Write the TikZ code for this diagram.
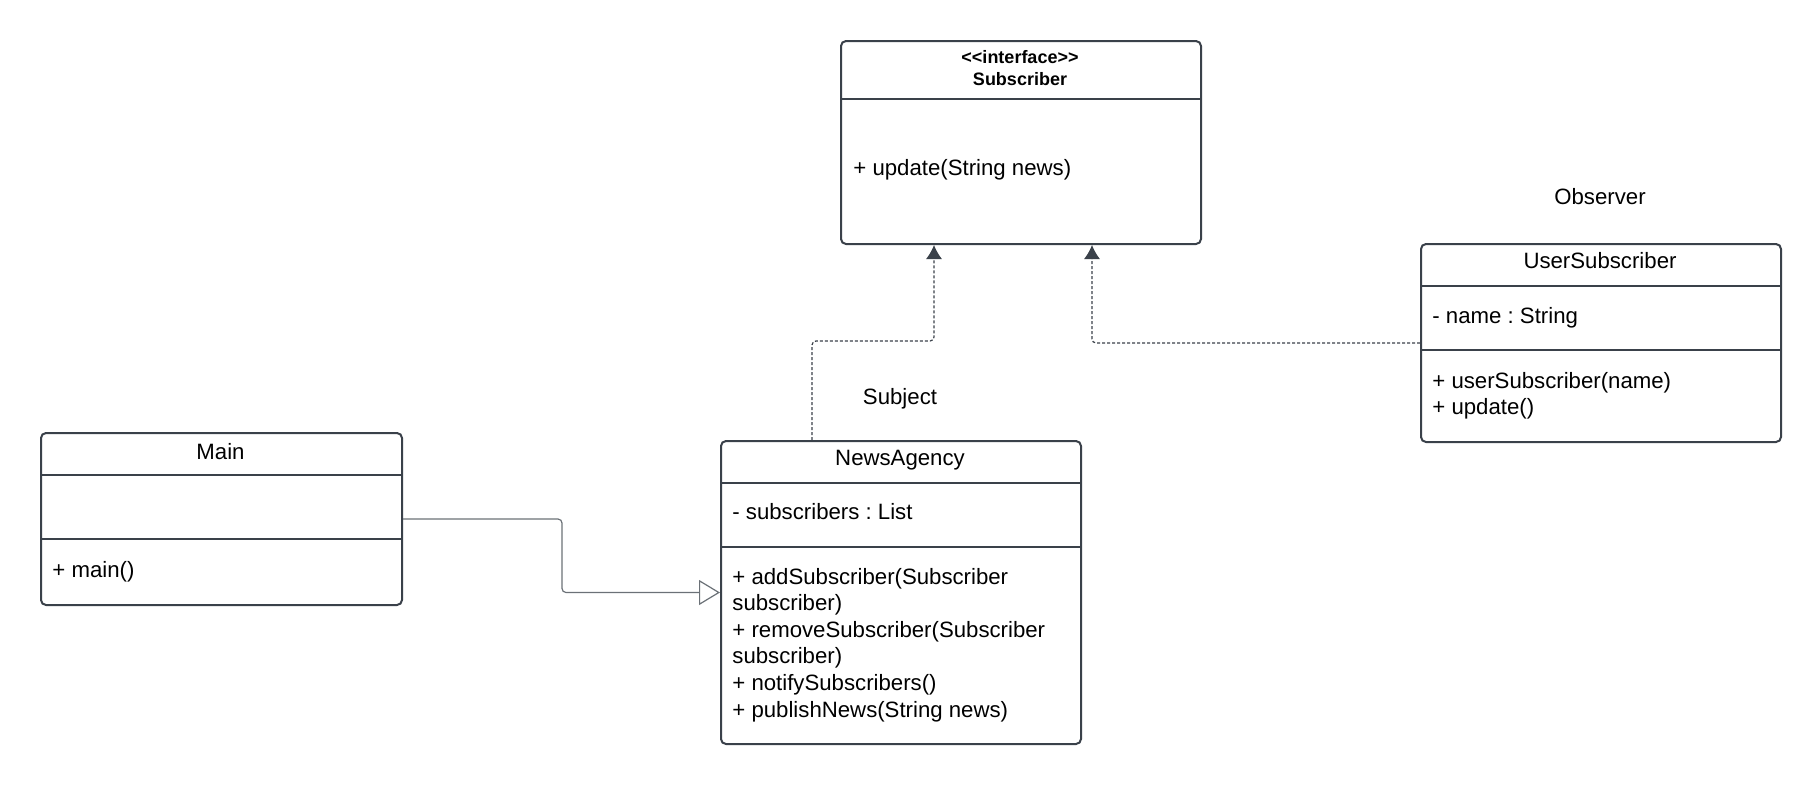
\documentclass[tikz,border=0pt]{standalone}
\usepackage{fontspec}
\setmainfont{Liberation Sans}
\usepackage{tikz}
\usetikzlibrary{arrows.meta, positioning}
\definecolor{umlline}{HTML}{3A414A}
\frenchspacing

\begin{document}
\begin{tikzpicture}[x=0.5pt, y=-0.5pt,
  classbox/.style={draw=umlline, line width=1pt, rounded corners=2.5pt, minimum width=180pt, anchor=north west, inner sep=0pt},
  divider/.style={draw=umlline, line width=1pt},
  classname/.style={anchor=base, inner sep=0pt, font=\fontsize{11.1}{13.3}\selectfont},
  stereo/.style={anchor=base, inner sep=0pt, font=\fontsize{9}{11}\selectfont\bfseries},
  member/.style={anchor=base west, inner sep=0pt, font=\fontsize{11.1}{13.3}\selectfont},
  realize/.style={draw=umlline, line width=0.6pt, dash pattern=on 1.5pt off 1pt, rounded corners=2pt, -{Latex[length=7pt,width=8pt]}},
  inherit/.style={draw=umlline!75, line width=0.6pt, rounded corners=2pt, -{Triangle[open,length=10.5pt,width=12.5pt,fill=white]}}]
  \useasboundingbox (0,0) rectangle (1820,784);
  % interface
  \node[classbox, minimum height=101.5pt] (iface) at (840,40) {};
  \draw[divider] ([yshift=-29.5pt]iface.north west) -- ([yshift=-29.5pt]iface.north east);
  \node[stereo] (iface-st) at (1020,63.5) {{<}{<}interface{>}{>}};
  \node[stereo] (iface-name) at (1020,85.5) {Subscriber};
  \node[member] (iface-op) at (853,175) {+ update(String news)};
  % observer
  \node[classname] (observer) at (1600,204) {Observer};
  \node[classbox, minimum height=99pt] (user) at (1420,243) {};
  \draw[divider] ([yshift=-21.5pt]user.north west) -- ([yshift=-21.5pt]user.north east);
  \draw[divider] ([yshift=-53.5pt]user.north west) -- ([yshift=-53.5pt]user.north east);
  \node[classname] (user-name) at (1600,268) {UserSubscriber};
  \node[member] (user-attr) at (1432,323) {- name : String};
  \node[member] (user-op1) at (1432,388) {+ userSubscriber(name)};
  \node[member] (user-op2) at (1432,414) {+ update()};
  % subject
  \node[classname] (subject) at (900,404) {Subject};
  \node[classbox, minimum height=151.5pt] (agency) at (720,440) {};
  \draw[divider] ([yshift=-21.5pt]agency.north west) -- ([yshift=-21.5pt]agency.north east);
  \draw[divider] ([yshift=-53.5pt]agency.north west) -- ([yshift=-53.5pt]agency.north east);
  \node[classname] (agency-name) at (900,465) {NewsAgency};
  \node[member] (agency-attr) at (732,519) {- subscribers : List};
  \foreach \op [count=\i from 0] in {{+ addSubscriber(Subscriber}, {subscriber)}, {+ removeSubscriber(Subscriber}, {subscriber)}, {+ notifySubscribers()}, {+ publishNews(String news)}}
    \node[member] (agency-op\i) at (732,584+26.6*\i) {\op};
  % main
  \node[classbox, minimum width=180.5pt, minimum height=86pt] (main) at (40,432) {};
  \draw[divider] ([yshift=-21.5pt]main.north west) -- ([yshift=-21.5pt]main.north east);
  \draw[divider] ([yshift=-53.5pt]main.north west) -- ([yshift=-53.5pt]main.north east);
  \node[classname] (main-name) at (220.5,459) {Main};
  \node[member] (main-op) at (52,577) {+ main()};
  % connectors
  \draw[realize] ([xshift=46pt]agency.north west) -- ++(0,-99) -| ([xshift=47pt]iface.south west);
  \draw[realize] (user.west) -| ([xshift=126pt]iface.south west);
  \draw[inherit] (main.east) -- ++(159,0) |- (agency.west);
\end{tikzpicture}
\end{document}
